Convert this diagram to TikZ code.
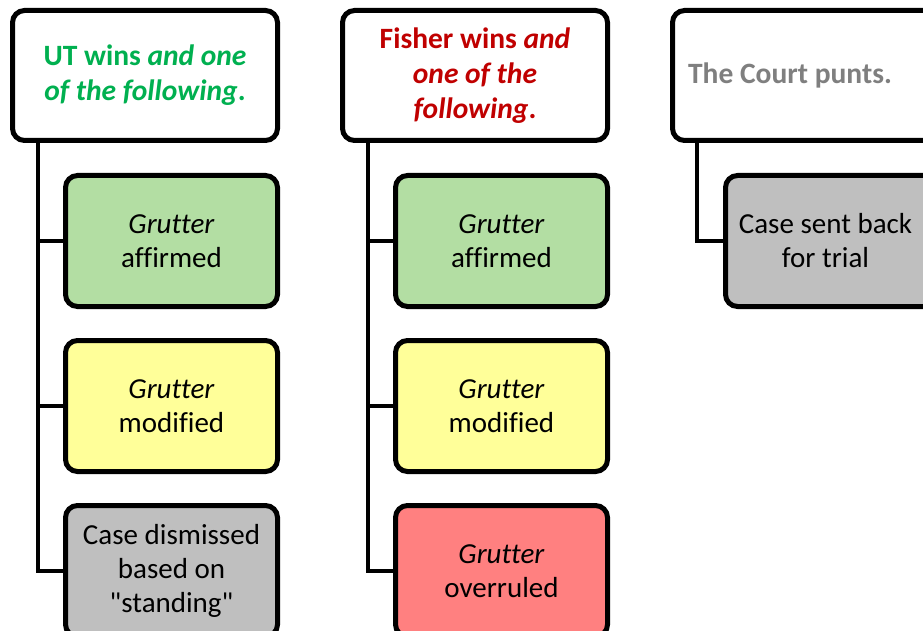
\documentclass[tikz,border=0pt]{standalone}
\usepackage{fontspec}
\setmainfont{Carlito}
\newfontfamily\bodyfont[Ligatures={NoCommon},RawFeature={-liga;-clig;-calt}]{Carlito}
\definecolor{gfill}{HTML}{B3DEA3}
\definecolor{yfill}{HTML}{FFFF99}
\definecolor{rfill}{HTML}{FF8080}
\definecolor{kfill}{HTML}{BFBFBF}
\definecolor{gtext}{HTML}{00B050}
\definecolor{rtext}{HTML}{C00000}
\definecolor{ktext}{HTML}{7F7F7F}
\tikzset{
  hdr/.style={draw=black, line width=5pt, rounded corners=12pt, fill=white,
    minimum width=265pt, minimum height=130pt, anchor=north west, align=center,
    inner sep=2pt, font=\bodyfont\fontsize{29.5}{35}\selectfont\bfseries},
  kid/.style={draw=black, line width=5pt, rounded corners=12pt,
    minimum width=212pt, minimum height=131pt, anchor=north west, align=center,
    inner sep=2pt, font=\bodyfont\fontsize{29}{34}\selectfont},
  conn/.style={draw=black, line width=4pt}
}
\begin{document}
\begin{tikzpicture}[x=1pt,y=-1pt]
\useasboundingbox (0,0) rectangle (923,631);
\clip (0,0) rectangle (923,631);
% headers
\node[hdr] (h1) at (10,8) {\color{gtext}UT wins \textit{and one}\\\color{gtext}\textit{of the following}.};
\node[hdr] (h2) at (340,8) {\color{rtext}Fisher wins \textit{and}\\\color{rtext}\textit{one of the}\\\color{rtext}\textit{following}.};
\node[hdr] (h3) at (670,8) {\color{ktext}\hspace*{-30pt}The Court punts.};
% column 1
\node[kid, fill=gfill] (a1) at (63,173) {\textit{Grutter}\\affirmed};
\node[kid, fill=yfill] (a2) at (63,338) {\textit{Grutter}\\modified};
\node[kid, fill=kfill] (a3) at (63,503) {Case dismissed\\based on\\"standing"};
% column 2
\node[kid, fill=gfill] (b1) at (393,173) {\textit{Grutter}\\affirmed};
\node[kid, fill=yfill] (b2) at (393,338) {\textit{Grutter}\\modified};
\node[kid, fill=rfill] (b3) at (393,503) {\textit{Grutter}\\overruled};
% column 3
\node[kid, fill=kfill] (c1) at (723,173) {\hspace*{-12pt}Case sent back\\\hspace*{-12pt}for trial};
% connectors
\coordinate (s1) at ([xshift=28pt]h1.south west);
\coordinate (s2) at ([xshift=28pt]h2.south west);
\coordinate (s3) at ([xshift=27pt]h3.south west);
\draw[conn] (s1) |- (a1.west);
\draw[conn] (s1) |- (a2.west);
\draw[conn] (s1) |- (a3.west);
\draw[conn] (s2) |- (b1.west);
\draw[conn] (s2) |- (b2.west);
\draw[conn] (s2) |- (b3.west);
\draw[conn] (s3) |- (c1.west);
\end{tikzpicture}
\end{document}
